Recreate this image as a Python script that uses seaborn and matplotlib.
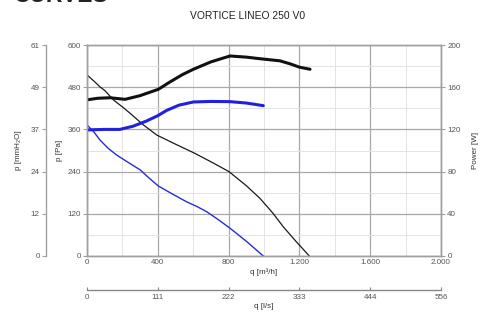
import numpy as np
import pandas as pd
import matplotlib
matplotlib.use("Agg")
import matplotlib.pyplot as plt
import seaborn as sns

# curve data (q in m3/h)
q_p_black = [0, 40, 73, 102, 149, 200, 243, 318, 394, 500, 601, 700, 802, 900, 977, 1050, 1109, 1180, 1256]
p_black = [515, 497, 481, 470, 444, 424, 406, 373, 344, 318, 294, 268, 240, 200, 164, 122, 83, 42, 0]

q_p_blue = [0, 40, 73, 120, 168, 230, 300, 350, 403, 480, 563, 620, 676, 740, 808, 900, 996]
p_blue = [373, 352, 330, 306, 287, 267, 245, 222, 199, 177, 154, 141, 126, 104, 79, 42, 0]

q_w_black = [0, 60, 130, 215, 300, 403, 469, 540, 601, 700, 808, 900, 977, 1090, 1150, 1200, 1260]
w_black = [148, 149.5, 150, 148.5, 152, 158, 165, 172, 177, 184, 189.6, 188.5, 187, 185, 182, 179, 177]

q_w_blue = [0, 100, 186, 260, 337, 400, 450, 520, 601, 700, 808, 900, 996]
w_blue = [119.5, 120, 120, 123, 128, 133, 138, 143, 146, 146.5, 146.3, 145, 142.5]

q_ticks = [0, 400, 800, 1200, 1600, 2000]
q_labels = ["0", "400", "800", "1.200", "1.600", "2.000"]
ls_ticks = [0, 111.1, 222.2, 333.3, 444.4, 555.6]
ls_labels = ["0", "111", "222", "333", "444", "556"]
pa_ticks = [0, 120, 240, 360, 480, 600]
mm_labels = ["0", "12", "24", "37", "49", "61"]
w_ticks = [0, 40, 80, 120, 160, 200]

title = "VORTICE LINEO 250 V0"

sns.set_theme(style="white")
plt.rcParams["font.family"] = ["Liberation Sans", "DejaVu Sans"]

spine_c = "#a0a0a0"
txt_c = "#555555"
fs = 5.8

fig = plt.figure(figsize=(4.83, 3.15), dpi=100)
ax = fig.add_axes([87 / 483, 1 - 256 / 315, 354 / 483, 211 / 315])

# grid
ax.set_xlim(0, 2000)
ax.set_ylim(0, 600)
ax.set_xticks(q_ticks)
ax.set_xticklabels(q_labels)
ax.set_xticks(np.arange(200, 2000, 400), minor=True)
ax.set_yticks(pa_ticks)
ax.set_yticks(np.arange(60, 600, 120), minor=True)
ax.grid(True, which="major", color="#a8a8a8", lw=0.9)
ax.grid(True, which="minor", color="#e4e4e4", lw=0.7)
ax.set_axisbelow(True)

dfb = pd.DataFrame({"q": q_p_black, "p": p_black})
dfu = pd.DataFrame({"q": q_p_blue, "p": p_blue})
sns.lineplot(data=dfb, x="q", y="p", ax=ax, color="#1a1a1a", lw=0.9)
sns.lineplot(data=dfu, x="q", y="p", ax=ax, color="#2a2ad8", lw=1.0)

ax.tick_params(axis="both", which="major", labelsize=fs, labelcolor=txt_c, colors=spine_c,
               length=3, width=0.8, pad=1.5)
ax.tick_params(axis="both", which="minor", length=0)
ax.tick_params(axis="x", length=0, pad=2)
for lab in ax.get_xticklabels():
    lab.set_color(txt_c)
for lab in ax.get_yticklabels():
    lab.set_color(txt_c)
ax.set_xlabel("q [m³/h]", fontsize=fs, color="#333333", labelpad=2)
ax.set_ylabel("p [Pa]", fontsize=fs, color="#333333", labelpad=3)
for s in ax.spines.values():
    s.set_color(spine_c)
    s.set_linewidth(1.0)

# power axis (right)
axw = ax.twinx()
axw.set_ylim(0, 200)
axw.set_yticks(w_ticks)
dwb = pd.DataFrame({"q": q_w_black, "w": w_black})
dwu = pd.DataFrame({"q": q_w_blue, "w": w_blue})
sns.lineplot(data=dwb, x="q", y="w", ax=axw, color="#111111", lw=2.2)
sns.lineplot(data=dwu, x="q", y="w", ax=axw, color="#2020e0", lw=2.2)
axw.set_xlim(0, 2000)
axw.tick_params(axis="y", labelsize=fs, labelcolor=txt_c, colors=spine_c, length=3, width=0.8, pad=1.5)
for lab in axw.get_yticklabels():
    lab.set_color(txt_c)
axw.set_ylabel("Power [W]", fontsize=fs, color="#333333", labelpad=8)
for s in axw.spines.values():
    s.set_color(spine_c)
    s.set_linewidth(1.0)
axw.grid(False)

# mmH2O axis (outer left)
axm = ax.twinx()
axm.set_ylim(0, 600)
axm.set_yticks(pa_ticks)
axm.set_yticklabels(mm_labels)
axm.yaxis.set_ticks_position("left")
axm.yaxis.set_label_position("left")
axm.spines["left"].set_position(("outward", 29.5))
for k in ["right", "top", "bottom"]:
    axm.spines[k].set_visible(False)
axm.spines["left"].set_color(spine_c)
axm.spines["left"].set_linewidth(1.0)
axm.tick_params(axis="y", labelsize=fs, colors=spine_c, length=3, width=0.8, pad=1.5)
for lab in axm.get_yticklabels():
    lab.set_color(txt_c)
axm.set_ylabel("p [mmH₂O]", fontsize=fs, color="#333333", labelpad=6)
axm.grid(False)

# l/s axis (lower)
axl = ax.twiny()
axl.set_xlim(0, 555.6)
axl.set_xticks(ls_ticks)
axl.set_xticklabels(ls_labels)
axl.xaxis.set_ticks_position("bottom")
axl.xaxis.set_label_position("bottom")
axl.spines["bottom"].set_position(("outward", 24.5))
for k in ["right", "top", "left"]:
    axl.spines[k].set_visible(False)
axl.spines["bottom"].set_color("#888888")
axl.spines["bottom"].set_linewidth(1.0)
axl.tick_params(axis="x", labelsize=fs, colors="#888888", direction="in", length=2.5, width=0.8, pad=3)
for lab in axl.get_xticklabels():
    lab.set_color(txt_c)
axl.set_xlabel("q [l/s]", fontsize=fs, color="#333333", labelpad=1.5)
axl.grid(False)

fig.text(248 / 483, 1 - 16 / 315, title, ha="center", va="center", fontsize=7.4, color="#222222")
fig.text(13 / 483, 1 - 1.5 / 315, "CURVES", ha="left", va="baseline", fontsize=16.5,
         fontweight="bold", color="#222222")

fig.savefig("out.png", dpi=100)
